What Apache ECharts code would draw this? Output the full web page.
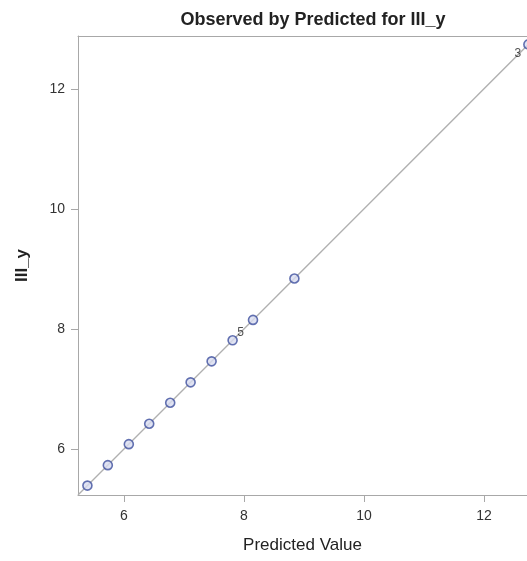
<!DOCTYPE html>
<html><head><meta charset="utf-8">
<script src="https://cdn.jsdelivr.net/npm/echarts@6/dist/echarts.min.js"></script>
<style>html,body{margin:0;padding:0;background:#fff}#c{width:527px;height:561px}</style>
</head><body><div id="c"></div>
<script>
var observed = [7.46, 6.77, 12.74, 7.11, 7.81, 8.84, 6.08, 5.39, 8.15, 6.42, 5.73];
var predicted = [7.46, 6.77, 12.74, 7.11, 7.81, 8.84, 6.08, 5.39, 8.15, 6.42, 5.73];
var pointLabels = ['', '', '3', '', '5', '', '', '', '', '', ''];
var tickValues = [6, 8, 10, 12];
var axisMin = 5.233, xMax = 12.717, yMax = 12.88;

var FONT = 'Liberation Sans, Arial, sans-serif';
var pts = observed.map(function (v, i) {
  var d = { value: [predicted[i], v] };
  if (pointLabels[i] === '3') {
    d.label = { show: true, formatter: '3', position: 'left', offset: [3, 9] };
  } else if (pointLabels[i] === '5') {
    d.label = { show: true, formatter: '5', position: 'top', offset: [8, 9] };
  }
  return d;
});
var hi = Math.max.apply(null, predicted);
var chart = echarts.init(document.getElementById('c'));
function axis(min, max) {
  return {
    type: 'value', min: min, max: max,
    splitLine: { show: false },
    axisLine: { show: true, lineStyle: { color: '#a8a8a8', width: 1 } },
    axisTick: { show: true, customValues: tickValues, length: 7, lineStyle: { color: '#a8a8a8' } },
    axisLabel: { customValues: tickValues, color: '#333', fontSize: 14, fontFamily: FONT },
    nameLocation: 'middle'
  };
}
var xa = axis(axisMin, xMax);
xa.name = 'Predicted Value'; xa.nameGap = 42;
xa.axisLabel.margin = 14;
xa.nameTextStyle = { color: '#222', fontSize: 17, fontFamily: FONT };
var ya = axis(axisMin, yMax);
ya.name = 'III_y'; ya.nameGap = 47;
ya.axisLabel.margin = 13;
ya.nameTextStyle = { color: '#222', fontSize: 17, fontWeight: 'bold', fontFamily: FONT };
var xTop = { type: 'value', position: 'top', min: axisMin, max: xMax,
  axisLine: { show: true, lineStyle: { color: '#a8a8a8', width: 1 } },
  axisTick: { show: false }, axisLabel: { show: false }, splitLine: { show: false } };

chart.setOption({
  animation: false,
  title: { text: 'Observed by Predicted for III_y', left: 308, textAlign: 'center', top: 6,
    textStyle: { fontSize: 18, fontWeight: 'bold', color: '#222', fontFamily: FONT } },
  grid: { left: 78, top: 36, bottom: 66, right: 0, show: false },
  xAxis: [xa, xTop],
  yAxis: ya,
  series: [
    { type: 'line', data: [[axisMin, axisMin], [hi, hi]], symbol: 'none', silent: true, clip: false,
      lineStyle: { color: '#b0b0b0', width: 1.3 }, z: 1 },
    { type: 'scatter', data: pts, symbol: 'circle', symbolSize: 9, clip: false,
      itemStyle: { color: '#d8dcf0', borderColor: '#3d4f9e', borderWidth: 1.6 },
      label: { show: false, color: '#222', fontSize: 12, fontFamily: FONT }, z: 3 }
  ]
});
</script></body></html>
